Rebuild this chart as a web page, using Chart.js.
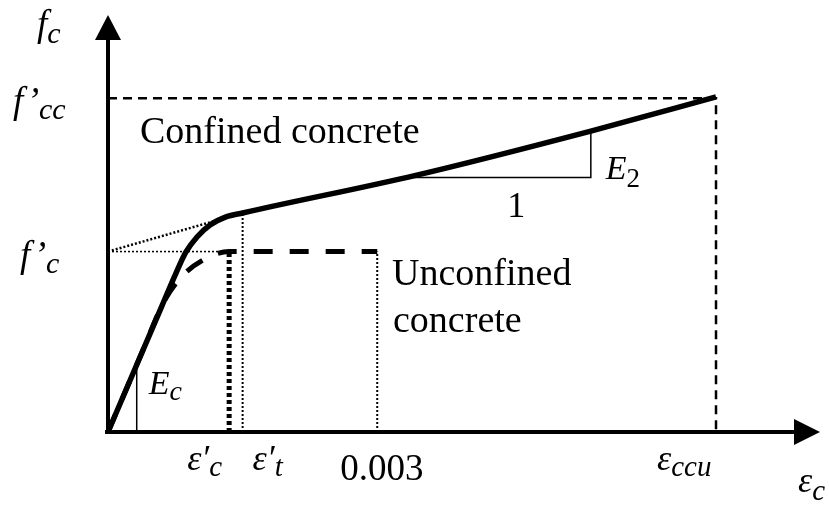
<!DOCTYPE html>
<html>
<head>
<meta charset="utf-8">
<script src="https://cdn.jsdelivr.net/npm/chart.js@4.4.0/dist/chart.umd.min.js"></script>
<style>
  body { margin: 0; background: #fff; }
  #wrap { width: 829px; height: 506px; }
</style>
</head>
<body>
<div id="wrap"><canvas id="stressChart" width="829" height="506"></canvas></div>
<script>
// --- data (strain / normalised stress f/f'c) ---
const confinedStrain = [0, 0.0006, 0.000758, 0.000869, 0.000992, 0.001137, 0.001315, 0.0015, 0.00344, 0.00538, 0.006775];
const confinedStress = [0, 0.698, 0.881, 0.998, 1.081, 1.147, 1.192, 1.214, 1.424, 1.668, 1.857];

const unconfinedStrain = [0, 0.0004, 0.00061, 0.0008, 0.00106, 0.00135, 0.003];
const unconfinedStress = [0, 0.466, 0.71, 0.85, 0.953, 1.0, 1.0];

// guide lines
const fccGuideX = [0, 0.006775, 0.006775];
const fccGuideY = [1.85, 1.85, 0];
const fcGuideX = [0, 0.00135];
const fcGuideY = [1.0, 1.0];
const tangentX = [0, 0.0015];
const tangentY = [1.0, 1.214];
const epsCX = [0.00135, 0.00135];
const epsCY = [0, 0.995];
const epsTX = [0.0015, 0.0015];
const epsTY = [0, 1.214];
const eps003X = [0.003, 0.003];
const eps003Y = [0, 1.0];
const ecSlopeX = [0.00032, 0.00032];
const ecSlopeY = [0, 0.372];
const e2SlopeX = [0.0033, 0.00538, 0.00538];
const e2SlopeY = [1.41, 1.41, 1.668];

// tick labels ("_" starts a subscript)
const xTickValues = [0.00135, 0.0015, 0.003, 0.006775];
const xTickLabels = ['ε′_c', 'ε′_t', '0.003', 'ε_ccu'];
const yTickValues = [1.85, 1.0];
const yTickLabels = ['f’_cc', 'f’_c'];
const xTitle = 'ε_c';
const yTitle = 'f_c';

// label nudges in px (layout only)
const xTickShift = [-42, 10, -37, -59];
const yTickLeft = [13, 20];

function pts(xs, ys) {
    return xs.map((x, i) => ({ x: x, y: ys[i] }));
}

function guide(xs, ys, width, dash) {
    return {
        data: pts(xs, ys),
        borderColor: '#000',
        borderWidth: width,
        borderDash: dash,
        borderCapStyle: 'butt',
        tension: 0,
        clip: false
    };
}

function drawMath(ctx, label, x, y, size, subSize, subDy) {
    const parts = label.split('_');
    const isNum = s => /^[0-9.]+$/.test(s);
    const font = (s, sz) => (isNum(s) ? '' : 'italic ') + sz + 'px "Liberation Serif"';
    ctx.font = font(parts[0], size);
    ctx.fillText(parts[0], x, y);
    if (parts[1]) {
        const w = ctx.measureText(parts[0]).width;
        ctx.font = font(parts[1], subSize);
        ctx.fillText(parts[1], x + w, y + subDy);
    }
}

const decorPlugin = {
    id: 'decor',
    afterDatasetsDraw(chart) {
        const ctx = chart.ctx;
        const xs = chart.scales.x, ys = chart.scales.y;
        const area = chart.chartArea;
        const x0 = xs.getPixelForValue(0);
        const y0 = ys.getPixelForValue(0);

        ctx.save();
        ctx.fillStyle = '#000';
        ctx.strokeStyle = '#000';
        ctx.setLineDash([]);

        // axes
        ctx.lineWidth = 4;
        ctx.beginPath();
        ctx.moveTo(x0, y0 + 2);
        ctx.lineTo(x0, area.top + 20);
        ctx.moveTo(x0 - 3, y0);
        ctx.lineTo(area.right - 10, y0);
        ctx.stroke();

        // arrow heads
        ctx.beginPath();
        ctx.moveTo(x0, area.top - 2);
        ctx.lineTo(x0 - 13, area.top + 23);
        ctx.lineTo(x0 + 13, area.top + 23);
        ctx.closePath();
        ctx.fill();
        ctx.beginPath();
        ctx.moveTo(area.right + 12, y0);
        ctx.lineTo(area.right - 14, y0 - 13);
        ctx.lineTo(area.right - 14, y0 + 13);
        ctx.closePath();
        ctx.fill();

        ctx.textBaseline = 'alphabetic';
        ctx.textAlign = 'left';

        // x tick labels
        xTickValues.forEach((v, i) => {
            const lbl = xTickLabels[i];
            const num = /^[0-9.]+$/.test(lbl);
            drawMath(ctx, lbl, xs.getPixelForValue(v) + xTickShift[i], y0 + (num ? 48 : 38), num ? 37 : 36, 29, 6);
        });
        // y tick labels
        yTickValues.forEach((v, i) => {
            drawMath(ctx, yTickLabels[i], yTickLeft[i], ys.getPixelForValue(v) + 15, 37, 30, 6);
        });
        // axis titles
        drawMath(ctx, yTitle, 37, area.top + 19, 37, 30, 7);
        drawMath(ctx, xTitle, area.right - 10, y0 + 60, 36, 29, 8);

        // slope markers
        drawMath(ctx, 'E_c', xs.getPixelForValue(0.00032) + 12, y0 - 38, 34, 28, 6);
        drawMath(ctx, 'E_2', xs.getPixelForValue(0.00538) + 15, ys.getPixelForValue(1.41) + 1, 34, 27, 8);
        ctx.font = '36px "Liberation Serif"';
        ctx.textAlign = 'center';
        ctx.fillText('1', xs.getPixelForValue(0.00455), ys.getPixelForValue(1.41) + 39);

        // curve names
        ctx.textAlign = 'left';
        ctx.font = '38px "Liberation Serif"';
        ctx.fillText('Confined concrete', 140, 143);
        ctx.fillText('Unconfined', 392, 285);
        ctx.fillText('concrete', 393, 332);
        ctx.restore();
    }
};

new Chart(document.getElementById('stressChart').getContext('2d'), {
    type: 'line',
    data: {
        datasets: [
            guide(fccGuideX, fccGuideY, 2.5, [9, 6]),
            guide(fcGuideX, fcGuideY, 1.5, [2, 2]),
            guide(tangentX, tangentY, 2.5, [2, 2]),
            guide(epsCX, epsCY, 5, [4, 3]),
            guide(epsTX, epsTY, 2, [2, 2]),
            guide(eps003X, eps003Y, 2, [2, 2]),
            guide(ecSlopeX, ecSlopeY, 1.5, []),
            guide(e2SlopeX, e2SlopeY, 1.5, []),
            {
                label: 'Unconfined concrete',
                data: pts(unconfinedStrain, unconfinedStress),
                borderColor: '#000',
                borderWidth: 5,
                borderDash: [19, 17],
                borderCapStyle: 'butt',
                cubicInterpolationMode: 'monotone',
                clip: false
            },
            {
                label: 'Confined concrete',
                data: pts(confinedStrain, confinedStress),
                borderColor: '#000',
                borderWidth: 5.5,
                borderJoinStyle: 'round',
                cubicInterpolationMode: 'monotone',
                clip: false
            }
        ]
    },
    options: {
        responsive: false,
        devicePixelRatio: 1,
        animation: false,
        layout: { padding: { left: 108, top: 17, right: 21, bottom: 74 } },
        elements: { point: { radius: 0, hoverRadius: 0 } },
        scales: {
            x: { type: 'linear', min: 0, max: 0.0078, display: false },
            y: { min: 0, max: 2.3, display: false }
        },
        plugins: {
            legend: { display: false },
            tooltip: { enabled: false }
        }
    },
    plugins: [decorPlugin]
});
</script>
</body>
</html>
